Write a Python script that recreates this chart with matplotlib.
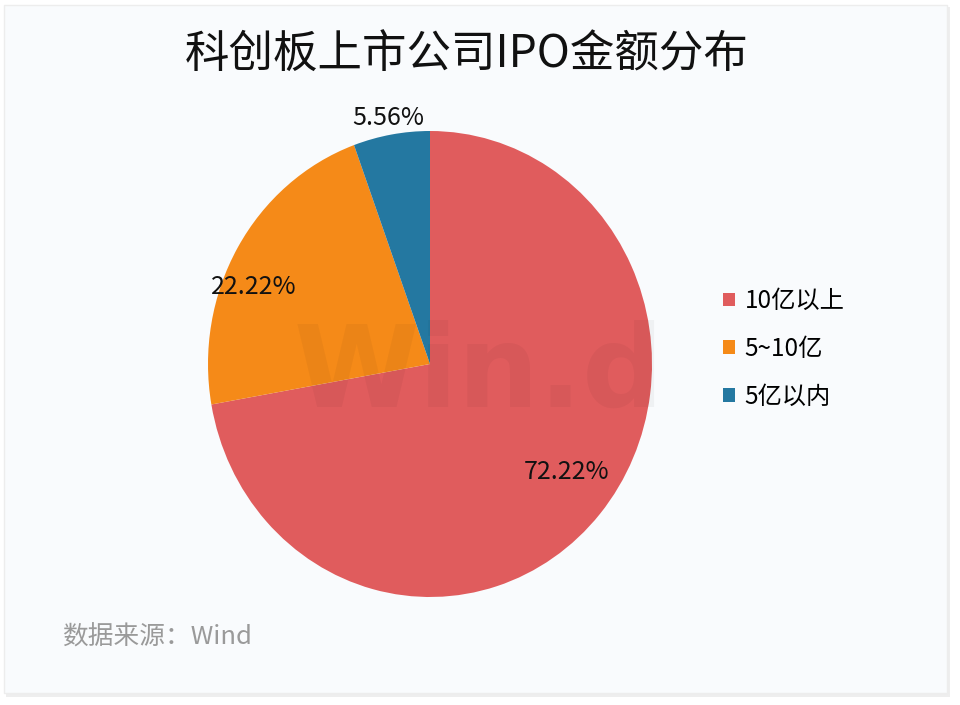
import numpy as np
import matplotlib.pyplot as plt
from matplotlib.patches import Rectangle, Patch

plt.rcParams['font.family'] = ['Noto Sans CJK SC', 'DejaVu Sans']

title = '科创板上市公司IPO金额分布'
categories = ['10亿以上', '5~10亿', '5亿以内']
shares = [72.22, 22.22, 5.56]
source = '数据来源：Wind'

colors = ['#e05c5d', '#f58a18', '#2478a1']
label_radius = [0.77, 0.86, 1.07]
label_turn = [3, 7.5, 0]   # degrees added to each wedge's mid angle

W, H = 960, 705
fig = plt.figure(figsize=(W / 100, H / 100), dpi=100)
fig.patch.set_facecolor('white')

# card with soft shadow
fig.patches.append(Rectangle((6 / W, 1 - 697 / H), 944 / W, 690 / H, transform=fig.transFigure,
                             facecolor='#eeeeee', edgecolor='none', zorder=-3))
fig.patches.append(Rectangle((4 / W, 1 - 693 / H), 943 / W, 688 / H, transform=fig.transFigure,
                             facecolor='#f9fbfd', edgecolor='#ededed', linewidth=1, zorder=-2))

# pie axes spanning the drawn ellipse
x0, x1, y0, y1 = 208, 652, 131, 597
ax = fig.add_axes([x0 / W, 1 - y1 / H, (x1 - x0) / W, (y1 - y0) / H])
ax.set_facecolor('none')
wedges, _ = ax.pie(shares, colors=colors, startangle=90, counterclock=False,
                   wedgeprops=dict(linewidth=0))
ax.set_aspect('auto')
ax.set_xlim(-1, 1)
ax.set_ylim(-1, 1)
ax.axis('off')

for w, v, r, t in zip(wedges, shares, label_radius, label_turn):
    ang = np.deg2rad((w.theta1 + w.theta2) / 2 + t)
    ax.text(r * np.cos(ang), r * np.sin(ang), f'{v:.2f}%', ha='center', va='center',
            fontsize=18, color='#111111', clip_on=False)

# watermark
ax.text(0.22, -0.05, 'Win.d', ha='center', va='center', fontsize=82, fontweight='bold',
        color='#000000', alpha=0.04, family='DejaVu Sans', zorder=5)

fig.text(467 / W, 1 - 55 / H, title, ha='center', va='center', fontsize=32, color='#111111')
fig.text(62 / W, 1 - 638 / H, source, ha='left', va='center', fontsize=18.5, color='#9a9a9a')

handles = [Patch(facecolor=c, edgecolor='none') for c in colors]
fig.legend(handles, categories, loc='center left', bbox_to_anchor=(701 / W, 1 - 349 / H),
           frameon=False, fontsize=17.5, handlelength=0.5, handleheight=0.5,
           handletextpad=0.4, labelspacing=0.9)

fig.savefig('out.png', dpi=100, facecolor=fig.get_facecolor())
